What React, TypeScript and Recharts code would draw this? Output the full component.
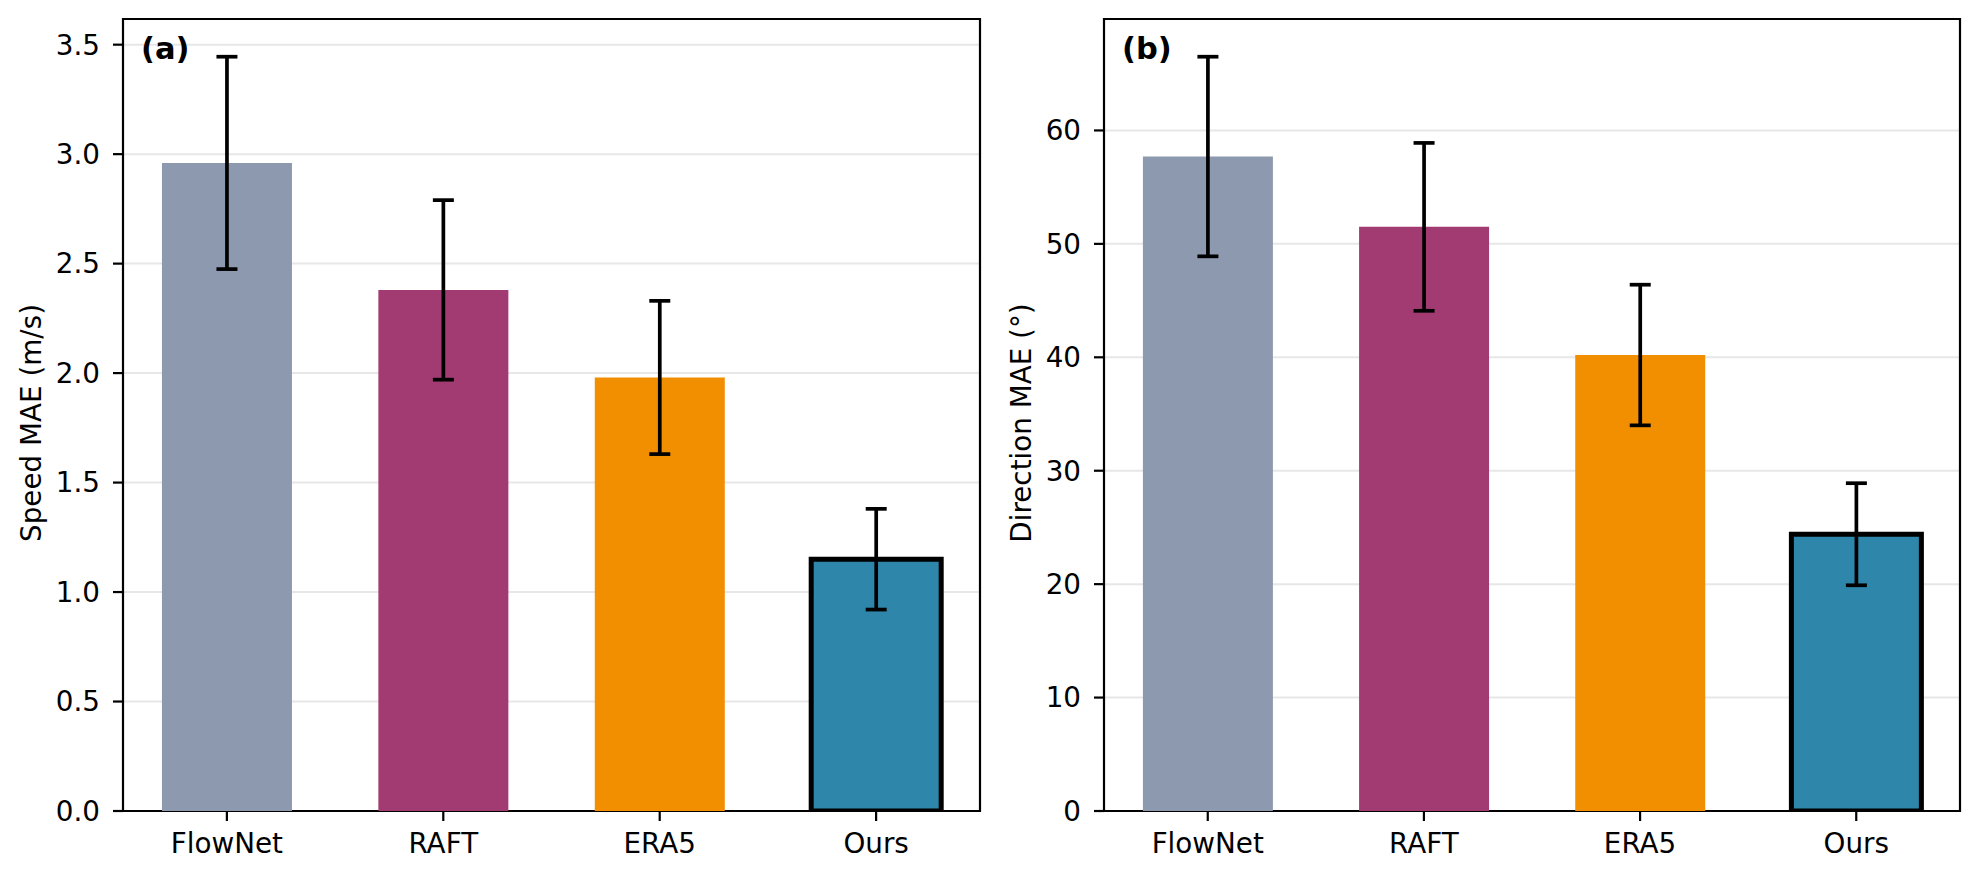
import React from 'react';
import {
  BarChart,
  Bar,
  XAxis,
  YAxis,
  CartesianGrid,
  ErrorBar,
  Cell,
  ReferenceArea,
} from 'recharts';

// Methods compared in both panels
const categories = ['FlowNet', 'RAFT', 'ERA5', 'Ours'];
const barColors = ['#8D99AE', '#A23B72', '#F18F01', '#2E86AB'];

// (a) wind speed mean absolute error, m/s, with its spread
const speedMae = [2.96, 2.38, 1.98, 1.15];
const speedStd = [0.485, 0.41, 0.35, 0.23];
const speedTicks = [0, 0.5, 1, 1.5, 2, 2.5, 3, 3.5];

// (b) wind direction mean absolute error, degrees, with its spread
const directionMae = [57.7, 51.5, 40.2, 24.4];
const directionStd = [8.8, 7.4, 6.2, 4.5];
const directionTicks = [0, 10, 20, 30, 40, 50, 60];

// Highlighted method gets a black outline
const highlighted = 'Ours';

const FONT = 'DejaVu Sans';
const FONT_SIZE = 27.8;
const BAR_WIDTH = 0.6;

type PanelProps = {
  values: number[];
  errors: number[];
  ticks: number[];
  tickFormat: (v: number) => string;
  yLabel: string;
  yLabelX: number;
  tag: string;
  yAxisWidth: number;
  left: number;
};

function Panel({ values, errors, ticks, tickFormat, yLabel, yLabelX, tag, yAxisWidth, left }: PanelProps) {
  const data = categories.map((name, i) => ({
    x: i,
    name,
    value: values[i],
    err: errors[i],
  }));
  const n = categories.length;
  const span = n - 1 + BAR_WIDTH;
  const xPad = 0.05 * span;
  const xDomain: [number, number] = [-BAR_WIDTH / 2 - xPad, n - 1 + BAR_WIDTH / 2 + xPad];
  const yMax = Math.max(...values.map((v, i) => v + errors[i])) * 1.05;
  const yDomain: [number, number] = [0, yMax];

  const tickStyle = { fill: '#000', fontSize: FONT_SIZE, fontFamily: FONT };

  return (
    <div style={{ position: 'absolute', left, top: 0, width: 1000, height: 879 }}>
      <BarChart
        width={1000}
        height={879}
        data={data}
        margin={{ top: 19, right: 20, bottom: 28, left: 0 }}
        barCategoryGap="20%"
        barGap={0}
      >
        <XAxis
          dataKey="x"
          type="number"
          domain={xDomain}
          allowDataOverflow
          ticks={categories.map((_, i) => i)}
          tickFormatter={(i: number) => categories[i] ?? ''}
          interval={0}
          height={40}
          axisLine={false}
          tickLine={{ stroke: '#000', strokeWidth: 2.2 }}
          tickSize={10}
          tickMargin={12}
          tick={tickStyle}
        />
        <YAxis
          type="number"
          domain={yDomain}
          allowDataOverflow
          ticks={ticks}
          interval={0}
          tickFormatter={tickFormat}
          width={yAxisWidth}
          axisLine={false}
          tickLine={{ stroke: '#000', strokeWidth: 2.2 }}
          tickSize={10}
          tickMargin={13}
          tick={tickStyle}
          label={{
            content: () => (
              <text
                x={yLabelX}
                y={423}
                transform={`rotate(-90, ${yLabelX}, 423)`}
                textAnchor="middle"
                dominantBaseline="central"
                fill="#000"
                fontSize={FONT_SIZE}
                fontFamily={FONT}
              >
                {yLabel}
              </text>
            ),
          }}
        />
        <Bar dataKey="value" isAnimationActive={false}>
          {data.map((d, i) => (
            <Cell
              key={d.name}
              fill={barColors[i]}
              stroke={d.name === highlighted ? '#000' : 'none'}
              strokeWidth={d.name === highlighted ? 5 : 0}
            />
          ))}
          <ErrorBar dataKey="err" direction="y" width={10.5} strokeWidth={3.7} stroke="#000" />
        </Bar>
        <CartesianGrid
          horizontal
          vertical={false}
          stroke="#b0b0b0"
          strokeOpacity={0.3}
          strokeWidth={2}
        />
        <ReferenceArea
          x1={xDomain[0]}
          x2={xDomain[1]}
          y1={yDomain[0]}
          y2={yDomain[1]}
          fill="none"
          fillOpacity={0}
          stroke="#000"
          strokeWidth={2.2}
          ifOverflow="visible"
          label={{
            content: (props: any) => {
              const vb = props.viewBox || { x: 0, y: 0 };
              return (
                <text
                  x={vb.x + 18}
                  y={vb.y + 40}
                  fill="#000"
                  fontSize={30.5}
                  fontWeight="bold"
                  fontFamily={FONT}
                >
                  {tag}
                </text>
              );
            },
          }}
        />
      </BarChart>
    </div>
  );
}

export default function App() {
  return (
    <div style={{ position: 'absolute', left: 0, top: 0, width: 1980, height: 879, background: '#fff' }}>
      <Panel
        values={speedMae}
        errors={speedStd}
        ticks={speedTicks}
        tickFormat={(v) => v.toFixed(1)}
        yLabel="Speed MAE (m/s)"
        yLabelX={31.7}
        tag="(a)"
        yAxisWidth={123}
        left={0}
      />
      <Panel
        values={directionMae}
        errors={directionStd}
        ticks={directionTicks}
        tickFormat={(v) => String(v)}
        yLabel="Direction MAE (°)"
        yLabelX={41.7}
        tag="(b)"
        yAxisWidth={124}
        left={980}
      />
    </div>
  );
}
